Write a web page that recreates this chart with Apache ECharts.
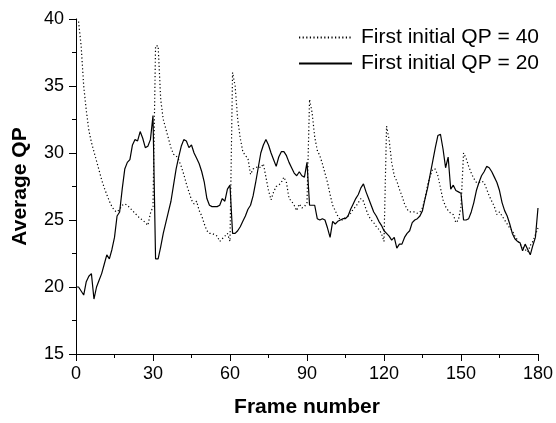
<!DOCTYPE html>
<html lang="en">
<head>
    <meta charset="UTF-8">
    <title>Average QP</title>
    <style>
        html, body { margin: 0; padding: 0; background: #fff; }
        #chart { width: 556px; height: 423px; }
    </style>
</head>
<body>
    <div id="chart"></div>
    <script src="https://cdn.jsdelivr.net/npm/echarts@6/dist/echarts.min.js"></script>
    <script>
        // frame index 0..180
        var frames = [];
        for (var i = 0; i <= 180; i++) frames.push(i);

        // QP values, one per frame
        var qpInit40 = [
            40.0, 39.8, 38.0, 35.0, 33.2, 31.7, 30.8, 30.1, 29.4, 28.7,
            28.0, 27.4, 26.9, 26.4, 26.0, 25.7, 25.6, 25.8, 26.1, 26.2,
            26.1, 25.9, 25.7, 25.5, 25.3, 25.1, 25.0, 24.8, 24.6, 25.5,
            26.0, 38.0, 38.0, 34.0, 32.5, 31.8, 31.1, 30.4, 29.9, 29.8,
            29.5, 29.0, 28.4, 27.7, 27.1, 26.5, 26.2, 26.4, 25.7, 25.3,
            24.7, 24.2, 24.0, 24.0, 23.9, 23.8, 23.4, 23.6, 23.8, 24.0,
            23.4, 36.0, 35.0, 32.5, 31.1, 30.1, 29.8, 29.6, 28.4, 28.8,
            28.9, 29.0, 28.9, 29.2, 28.2, 27.2, 26.5, 27.1, 27.5, 27.6,
            27.8, 28.2, 27.8, 26.6, 26.4, 26.1, 25.7, 26.2, 25.9, 26.0,
            26.3, 34.0, 33.0, 31.2, 30.2, 29.8, 29.2, 28.5, 27.8, 26.9,
            26.1, 25.7, 25.3, 25.0, 25.0, 25.2, 25.3, 25.5, 25.8, 26.0,
            26.3, 26.6, 26.4, 25.8, 25.3, 25.0, 24.8, 24.5, 24.3, 24.0,
            23.4, 32.0, 31.0, 29.3, 28.3, 27.9, 27.3, 26.8, 26.2, 25.8,
            25.6, 25.6, 25.6, 25.5, 25.6, 25.9, 26.6, 27.6, 28.3, 28.8,
            28.8, 28.3, 27.4, 26.5, 26.0, 25.7, 25.5, 25.4, 24.8, 25.0,
            26.0, 30.0, 29.6, 29.0, 28.5, 28.1, 27.8, 27.8, 27.9, 27.8,
            27.3, 26.8, 26.4, 26.0, 25.4, 25.6, 25.3, 25.0, 24.7, 24.4,
            24.2, 23.8, 23.5, 23.2, 23.0, 22.8, 22.6, 23.1, 23.4, 23.9,
            24.4
        ];

        var qpInit20 = [
            20.0, 20.0, 19.7, 19.4, 20.4, 20.8, 21.0, 19.1, 20.0, 20.5,
            21.0, 21.7, 22.4, 22.1, 22.8, 23.7, 25.3, 25.6, 27.3, 28.8,
            29.3, 29.5, 30.6, 31.0, 30.9, 31.6, 31.1, 30.4, 30.5, 31.0,
            32.8, 22.1, 22.1, 23.0, 24.0, 24.8, 25.6, 26.4, 27.6, 28.8,
            29.7, 30.5, 31.0, 30.9, 30.4, 30.6, 30.0, 29.6, 29.2, 28.6,
            27.8, 26.6, 26.1, 26.0, 26.0, 26.0, 26.1, 26.6, 26.4, 27.3,
            27.6, 24.0, 24.0, 24.2, 24.5, 24.9, 25.3, 25.8, 26.1, 26.8,
            27.8, 28.9, 30.0, 30.6, 31.0, 30.6, 30.0, 29.5, 29.0, 29.7,
            30.1, 30.1, 29.8, 29.3, 28.9, 28.5, 28.3, 28.6, 28.3, 28.2,
            29.3, 26.1, 26.1, 26.1, 25.1, 25.0, 25.1, 25.0, 24.4, 23.7,
            24.9, 24.7, 24.9, 25.0, 25.1, 25.1, 25.3, 25.8, 26.2, 26.6,
            26.9, 27.4, 27.7, 27.1, 26.6, 26.1, 25.6, 25.3, 24.9, 24.6,
            24.2, 24.0, 23.8, 23.5, 23.7, 22.9, 23.2, 23.2, 23.7, 24.0,
            24.2, 24.8, 25.0, 25.1, 25.3, 25.7, 26.6, 27.4, 28.4, 29.4,
            30.4, 31.3, 31.4, 30.3, 28.9, 29.7, 27.3, 27.6, 27.2, 27.1,
            27.0, 25.0, 25.0, 25.1, 25.6, 26.3, 27.2, 27.8, 28.3, 28.6,
            29.0, 28.9, 28.6, 28.2, 27.8, 27.2, 26.3, 25.7, 25.3, 24.7,
            24.0, 23.6, 23.4, 23.3, 22.7, 23.2, 22.8, 22.4, 23.1, 23.7,
            25.9
        ];

        var seriesNames = ['First initial QP = 40', 'First initial QP = 20'];

        function pairs(xs, ys) {
            var out = [];
            for (var i = 0; i < xs.length; i++) out.push([xs[i], ys[i]]);
            return out;
        }

        var font = 'Arial, "Liberation Sans", sans-serif';
        var chart = echarts.init(document.getElementById('chart'));
        chart.setOption({
            animation: false,
            backgroundColor: '#fff',
            grid: { left: 76, right: 17, top: 19, bottom: 64 },
            legend: {
                orient: 'vertical',
                right: 12,
                top: 22,
                itemWidth: 53,
                itemHeight: 14,
                itemGap: 5,
                itemStyle: { opacity: 0 },
                textStyle: { fontFamily: font, fontSize: 21, color: '#000', padding: [0, 0, 0, 4] },
                data: seriesNames
            },
            xAxis: {
                type: 'value',
                min: 0, max: 180, interval: 30,
                name: 'Frame number',
                nameLocation: 'middle',
                nameGap: 43,
                nameTextStyle: { fontFamily: font, fontSize: 21, fontWeight: 'bold', color: '#000' },
                axisLine: { lineStyle: { color: '#000', width: 1 } },
                axisTick: { inside: false, length: 7, lineStyle: { color: '#000' } },
                minorTick: { show: true, splitNumber: 2, length: 4, lineStyle: { color: '#000' } },
                axisLabel: { fontFamily: font, fontSize: 18, color: '#000', margin: 11 },
                splitLine: { show: false }
            },
            yAxis: {
                type: 'value',
                min: 15, max: 40, interval: 5,
                name: 'Average QP',
                nameLocation: 'middle',
                nameGap: 45,
                nameTextStyle: { fontFamily: font, fontSize: 21, fontWeight: 'bold', color: '#000' },
                axisLine: { show: true, lineStyle: { color: '#000', width: 1 } },
                axisTick: { show: true, inside: false, length: 7, lineStyle: { color: '#000' } },
                minorTick: { show: true, splitNumber: 2, length: 4, lineStyle: { color: '#000' } },
                axisLabel: { fontFamily: font, fontSize: 18, color: '#000', margin: 12 },
                splitLine: { show: false }
            },
            series: [
                {
                    name: seriesNames[0],
                    type: 'line',
                    data: pairs(frames, qpInit40),
                    showSymbol: false,
                    symbol: 'none',
                    lineStyle: { color: '#000', width: 1.2, type: [1.2, 2.4] },
                    itemStyle: { color: '#000' }
                },
                {
                    name: seriesNames[1],
                    type: 'line',
                    data: pairs(frames, qpInit20),
                    showSymbol: false,
                    symbol: 'none',
                    lineStyle: { color: '#000', width: 1.2 },
                    itemStyle: { color: '#000' }
                }
            ]
        });
    </script>
</body>
</html>
